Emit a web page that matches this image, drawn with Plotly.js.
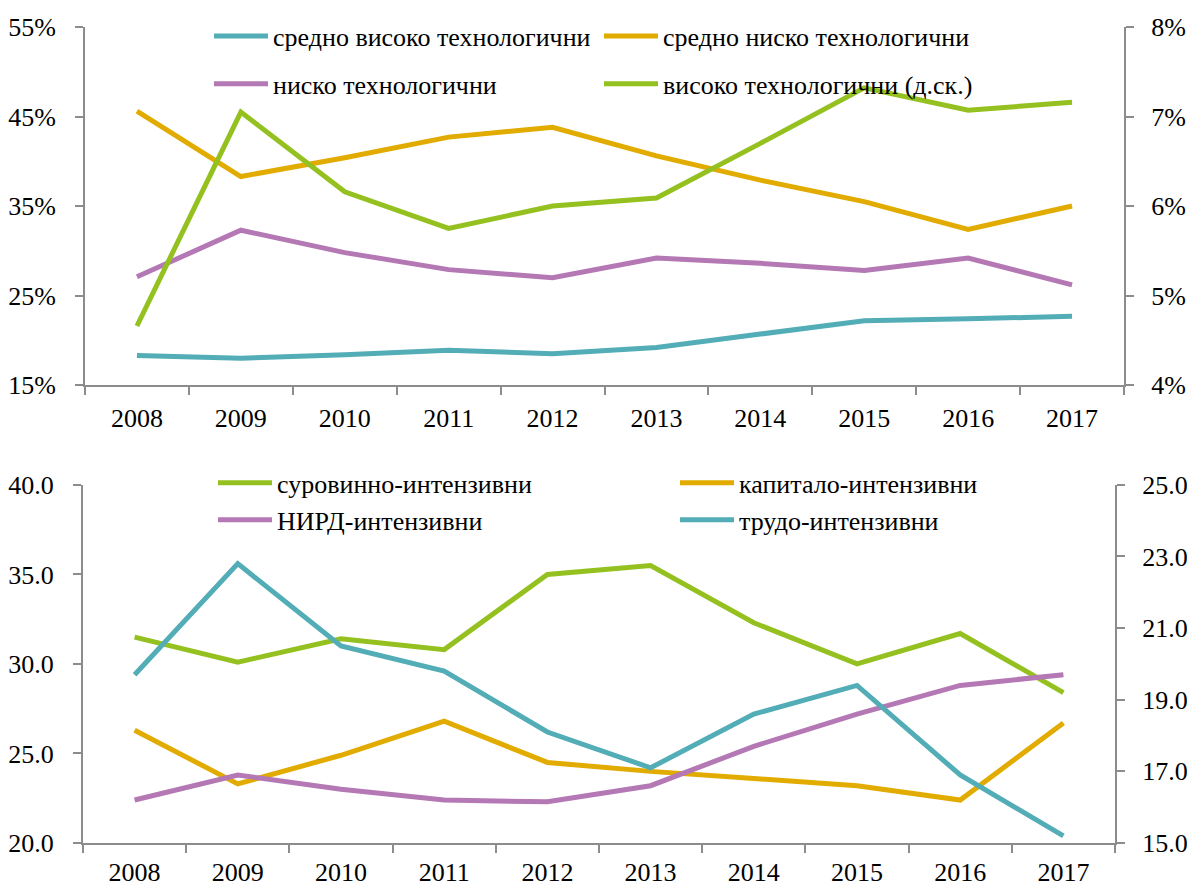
<!DOCTYPE html>
<html>
<head>
<meta charset="utf-8">
<script src="https://cdn.plot.ly/plotly-3.0.1.min.js"></script>
<style>
html,body{margin:0;padding:0;background:#fff;}
#chart{width:1187px;height:889px;}
</style>
</head>
<body>
<div id="chart"></div>
<script>
// ---- Data ----
var years = ['2008','2009','2010','2011','2012','2013','2014','2015','2016','2017'];

// Top chart (shares, %)
var medHighTech = [18.3, 18.0, 18.4, 18.9, 18.5, 19.2, 20.7, 22.2, 22.4, 22.7];
var medLowTech  = [45.6, 38.3, 40.4, 42.7, 43.8, 40.6, 37.9, 35.5, 32.4, 35.0];
var lowTech     = [27.1, 32.3, 29.8, 27.9, 27.0, 29.2, 28.6, 27.8, 29.2, 26.2];
var highTech    = [4.66, 7.05, 6.16, 5.75, 6.00, 6.09, 6.70, 7.32, 7.07, 7.16]; // right axis

// Bottom chart
var rawIntensive     = [31.5, 30.1, 31.4, 30.8, 35.0, 35.5, 32.3, 30.0, 31.7, 28.4];
var capitalIntensive = [26.3, 23.3, 24.9, 26.8, 24.5, 24.0, 23.6, 23.2, 22.4, 26.7];
var rndIntensive     = [16.2, 16.9, 16.5, 16.2, 16.15, 16.6, 17.7, 18.6, 19.4, 19.7]; // right axis
var laborIntensive   = [19.7, 22.8, 20.5, 19.8, 18.1, 17.1, 18.6, 19.4, 16.9, 15.2]; // right axis

var names = {
  medHigh: 'средно високо технологични',
  medLow: 'средно ниско технологични',
  low: 'ниско технологични',
  high: 'високо технологични (д.ск.)',
  raw: 'суровинно-интензивни',
  cap: 'капитало-интензивни',
  rnd: 'НИРД-интензивни',
  lab: 'трудо-интензивни'
};

var topLeftTicks = [15, 25, 35, 45, 55];
var topLeftLabels = ['15%', '25%', '35%', '45%', '55%'];
var topRightTicks = [4, 5, 6, 7, 8];
var topRightLabels = ['4%', '5%', '6%', '7%', '8%'];
var botLeftTicks = [20, 25, 30, 35, 40];
var botLeftLabels = ['20.0', '25.0', '30.0', '35.0', '40.0'];
var botRightTicks = [15, 17, 19, 21, 23, 25];
var botRightLabels = ['15.0', '17.0', '19.0', '21.0', '23.0', '25.0'];

// ---- Styles ----
var C = {teal:'#52adb7', orange:'#e2ab00', purple:'#b478b4', green:'#94c11f'};
var FONT = 'Liberation Serif, Times New Roman, serif';
var FS = 26;
var LW = 5;

var W = 1187, H = 889;
var M = {l:83, r:63, t:25, b:45};
var pw = W - M.l - M.r, ph = H - M.t - M.b;
function px2x(px){ return (px - M.l)/pw; }
function py2y(py){ return (H - M.b - py)/ph; }

function tr(x, y, name, color, xa, ya, leg){
  return {x:x, y:y, name:name, type:'scatter', mode:'lines',
    line:{color:color, width:LW}, xaxis:xa, yaxis:ya, legend:leg,
    hoverinfo:'x+y+name'};
}

var data = [
  tr(years, medHighTech, names.medHigh, C.teal, 'x', 'y', 'legend'),
  tr(years, medLowTech, names.medLow, C.orange, 'x', 'y', 'legend2'),
  tr(years, lowTech, names.low, C.purple, 'x', 'y', 'legend3'),
  tr(years, highTech, names.high, C.green, 'x', 'y2', 'legend4'),
  tr(years, rawIntensive, names.raw, C.green, 'x2', 'y3', 'legend5'),
  tr(years, capitalIntensive, names.cap, C.orange, 'x2', 'y3', 'legend6'),
  tr(years, rndIntensive, names.rnd, C.purple, 'x2', 'y4', 'legend7'),
  tr(years, laborIntensive, names.lab, C.teal, 'x2', 'y4', 'legend8')
];

var tickFont = {family:FONT, size:FS, color:'#000'};
var axisCommon = {
  showgrid:false, zeroline:false, showline:true, linecolor:'#8c8c8c', linewidth:2,
  ticks:'outside', ticklen:8, tickwidth:2, tickcolor:'#8c8c8c', tickfont:tickFont,
  fixedrange:true
};
function ax(extra){ return Object.assign({}, axisCommon, extra); }

var topDom = [py2y(384), py2y(24)];
var botDom = [py2y(843), py2y(484)];

function leg(xpx, ypx){
  return {x:px2x(xpx), y:py2y(ypx), xanchor:'left', yanchor:'middle',
    bgcolor:'rgba(0,0,0,0)', borderwidth:0, itemwidth:54,
    font:{family:FONT, size:FS, color:'#000'}, orientation:'h'};
}

var layout = {
  width:W, height:H, margin:M, showlegend:true,
  paper_bgcolor:'#fff', plot_bgcolor:'rgba(0,0,0,0)',
  font:{family:FONT, color:'#000'},
  xaxis: ax({type:'category', domain:[px2x(85), px2x(1124)], range:[-0.5, 9.5],
    tickson:'boundaries', anchor:'y', ticklabelstandoff:9}),
  yaxis: ax({domain:topDom, range:[15,55], tickmode:'array', tickvals:topLeftTicks,
    ticktext:topLeftLabels, anchor:'x', ticklabelstandoff:14}),
  yaxis2: ax({domain:topDom, range:[4,8], tickmode:'array', tickvals:topRightTicks,
    ticktext:topRightLabels, overlaying:'y', side:'right', anchor:'x', ticklabelstandoff:12}),
  xaxis2: ax({type:'category', domain:[px2x(83), px2x(1115)], range:[-0.5, 9.5],
    tickson:'boundaries', anchor:'y3', ticklabelstandoff:5}),
  yaxis3: ax({domain:botDom, range:[20,40], tickmode:'array', tickvals:botLeftTicks,
    ticktext:botLeftLabels, anchor:'x2', ticklabelstandoff:14}),
  yaxis4: ax({domain:botDom, range:[15,25], tickmode:'array', tickvals:botRightTicks,
    ticktext:botRightLabels, overlaying:'y3', side:'right', anchor:'x2', ticklabelstandoff:12}),
  legend:  leg(209, 34),
  legend2: leg(599, 34),
  legend3: leg(209, 82),
  legend4: leg(599, 82),
  legend5: leg(213, 482),
  legend6: leg(675, 482),
  legend7: leg(213, 519),
  legend8: leg(675, 519)
};

Plotly.newPlot('chart', data, layout, {displayModeBar:false, staticPlot:true});
</script>
</body>
</html>
